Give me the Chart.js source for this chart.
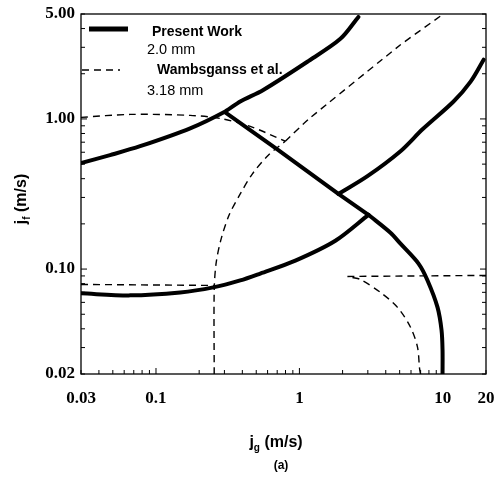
<!DOCTYPE html>
<html>
<head>
<meta charset="utf-8">
<script src="https://cdn.jsdelivr.net/npm/chart.js@4/dist/chart.umd.min.js"></script>
<style>
  html, body { margin: 0; padding: 0; background: #fff; }
  #wrap { width: 496px; height: 481px; }
</style>
</head>
<body>
<div id="wrap"><canvas id="c" width="496" height="481"></canvas></div>
<script>
// ---- axis ticks ----
const xTickVals = [0.03, 0.1, 1, 10, 20];
const xTickLabels = ['0.03', '0.1', '1', '10', '20'];
const yTickVals = [0.02, 0.1, 1, 5];
const yTickLabels = ['0.02', '0.10', '1.00', '5.00'];

// ---- Present Work (2.0 mm), solid ----
const pwUpper = [[0.03,0.508],[0.0478,0.574],[0.0775,0.658],[0.1731,0.866],[0.3039,1.122],[0.3867,1.307],[0.5598,1.56],[1.136,2.405],[1.931,3.415],[2.579,4.78]];
const pwLower = [[0.03,0.0689],[0.066,0.0668],[0.1474,0.0699],[0.2506,0.0755],[0.3867,0.0840],[0.5335,0.0934],[0.937,0.1139],[1.781,0.1545],[3.029,0.2298]];
const pwTransition = [[0.3039,1.105],[0.7011,0.628],[1.87,0.3164],[3.029,0.2298]];
const pwRight = [[3.029,0.2298],[4.314,0.1746],[5.068,0.1476],[6.769,0.1088],[7.823,0.0840],[9.187,0.0556],[9.795,0.0392],[9.954,0.0289],[9.954,0.02]];
const pwAnnular = [[1.87,0.3164],[2.981,0.416],[5.068,0.610],[7.217,0.853],[11.88,1.307],[15.62,1.773],[19.25,2.48]];

// ---- Wambsganss et al. (3.18 mm), dashed ----
const wTop = [[0.03,1.024],[0.066,1.072],[0.1731,1.056],[0.2804,1.008],[0.4543,0.892],[0.7974,0.710]];
const wDiag = [[0.7974,0.710],[1.154,0.993],[5.068,3.117],[9.641,4.85]];
const wArc = [[0.2546,0.02],[0.2546,0.0721],[0.2629,0.1105],[0.2850,0.1594],[0.3240,0.2298],[0.3867,0.3164],[0.4691,0.4293],[0.6067,0.5736],[0.7974,0.710]];
const wLowLeft = [[0.03,0.079],[0.2546,0.0778]];
const wLowRight = [[2.161,0.0893],[20,0.0907]];
const wRightArc = [[2.342,0.0879],[2.663,0.0852],[3.674,0.0699],[4.829,0.0556],[5.952,0.0410],[6.661,0.0302],[6.878,0.0219],[6.989,0.02]];

const toPts = a => a.map(p => ({x: p[0], y: p[1]}));
function solid(data, tension) {
  return { data: toPts(data), borderColor: '#000', borderWidth: 4, pointRadius: 0,
           showLine: true, fill: false, tension: tension, borderCapStyle: 'round', borderJoinStyle: 'round' };
}
function dashed(data, tension) {
  return { data: toPts(data), borderColor: '#000', borderWidth: 1.4, pointRadius: 0,
           showLine: true, fill: false, tension: tension, borderDash: [7, 5] };
}

const frame = {
  id: 'frame',
  afterDraw(chart) {
    const ctx = chart.ctx, a = chart.chartArea;
    const xs = chart.scales.x, ys = chart.scales.y;
    ctx.save();
    ctx.strokeStyle = '#000';
    ctx.lineWidth = 1.3;
    ctx.strokeRect(a.left, a.top, a.right - a.left, a.bottom - a.top);
    // inward log ticks
    ctx.lineWidth = 1;
    ctx.beginPath();
    for (let k = -2; k <= 1; k++) {
      for (let m = 1; m <= 9; m++) {
        const v = m * Math.pow(10, k);
        const len = (m === 1) ? 6 : 4;
        if (v >= xs.min && v <= xs.max) {
          const px = xs.getPixelForValue(v);
          ctx.moveTo(px, a.bottom); ctx.lineTo(px, a.bottom - len);
        }
        if (v >= ys.min && v <= ys.max) {
          const py = ys.getPixelForValue(v);
          ctx.moveTo(a.left, py); ctx.lineTo(a.left + len, py);
          ctx.moveTo(a.right, py); ctx.lineTo(a.right - len, py);
        }
      }
    }
    ctx.stroke();

    // legend
    ctx.lineWidth = 5;
    ctx.setLineDash([]);
    ctx.beginPath(); ctx.moveTo(89, 29); ctx.lineTo(128, 29); ctx.stroke();
    ctx.lineWidth = 1.4;
    ctx.setLineDash([7, 5]);
    ctx.beginPath(); ctx.moveTo(82, 70); ctx.lineTo(120, 70); ctx.stroke();
    ctx.setLineDash([]);
    ctx.fillStyle = '#000';
    ctx.textBaseline = 'middle';
    ctx.textAlign = 'left';
    ctx.font = 'bold 14px "Liberation Sans", Arial, sans-serif';
    ctx.fillText('Present Work', 152, 32);
    ctx.fillText('Wambsganss et al.', 157, 70);
    ctx.font = '14.5px "Liberation Sans", Arial, sans-serif';
    ctx.fillText('2.0 mm', 147, 50);
    ctx.fillText('3.18 mm', 147, 91);

    // axis titles
    const mainFont = 'bold 16px "Liberation Sans", Arial, sans-serif';
    const subFont = 'bold 10px "Liberation Sans", Arial, sans-serif';
    function title(main, sub, rest, cx, cy, rot) {
      ctx.save();
      ctx.translate(cx, cy);
      ctx.rotate(rot);
      ctx.font = mainFont;
      const w1 = ctx.measureText(main).width;
      const w3 = ctx.measureText(rest).width;
      ctx.font = subFont;
      const w2 = ctx.measureText(sub).width;
      let x = -(w1 + w2 + w3) / 2;
      ctx.textAlign = 'left';
      ctx.font = mainFont;
      ctx.fillText(main, x, 0); x += w1;
      ctx.font = subFont;
      ctx.fillText(sub, x, 5); x += w2;
      ctx.font = mainFont;
      ctx.fillText(rest, x, 0);
      ctx.restore();
    }
    title('j', 'f', ' (m/s)', 22, 199, -Math.PI / 2);
    title('j', 'g', ' (m/s)', 276, 443, 0);
    ctx.font = 'bold 12px "Liberation Sans", Arial, sans-serif';
    ctx.textAlign = 'center';
    ctx.fillText('(a)', 281, 466);
    ctx.restore();
  }
};

new Chart(document.getElementById('c'), {
  type: 'scatter',
  data: {
    datasets: [
      solid(pwUpper, 0.3),
      solid(pwLower, 0.3),
      solid(pwTransition, 0),
      solid(pwRight, 0.3),
      solid(pwAnnular, 0.3),
      dashed(wTop, 0.3),
      dashed(wDiag, 0.1),
      dashed(wArc, 0.3),
      dashed(wLowLeft, 0),
      dashed(wLowRight, 0),
      dashed(wRightArc, 0.3)
    ]
  },
  options: {
    responsive: false,
    animation: false,
    devicePixelRatio: 1,
    layout: { padding: { top: 14, right: 10, left: 0, bottom: 0 } },
    plugins: { legend: { display: false }, tooltip: { enabled: false } },
    scales: {
      x: {
        type: 'logarithmic', min: 0.03, max: 20,
        grid: { display: false, drawTicks: false },
        border: { display: false },
        afterBuildTicks: s => { s.ticks = xTickVals.map(v => ({ value: v })); },
        afterFit: s => { s.height = 107; s.paddingLeft = 0; s.paddingRight = 0; },
        ticks: {
          autoSkip: false, maxRotation: 0, padding: 14, color: '#000',
          font: { family: '"Liberation Serif", "Times New Roman", serif', weight: 'bold', size: 17 },
          callback: (v) => { const i = xTickVals.indexOf(v); return i >= 0 ? xTickLabels[i] : ''; }
        }
      },
      y: {
        type: 'logarithmic', min: 0.02, max: 5,
        grid: { display: false, drawTicks: false },
        border: { display: false },
        afterBuildTicks: s => { s.ticks = yTickVals.map(v => ({ value: v })); },
        afterFit: s => { s.width = 81; s.paddingTop = 0; s.paddingBottom = 0; },
        ticks: {
          autoSkip: false, padding: 6, color: '#000',
          font: { family: '"Liberation Serif", "Times New Roman", serif', weight: 'bold', size: 17 },
          callback: (v) => { const i = yTickVals.indexOf(v); return i >= 0 ? yTickLabels[i] : ''; }
        }
      }
    }
  },
  plugins: [frame]
});
</script>
</body>
</html>
